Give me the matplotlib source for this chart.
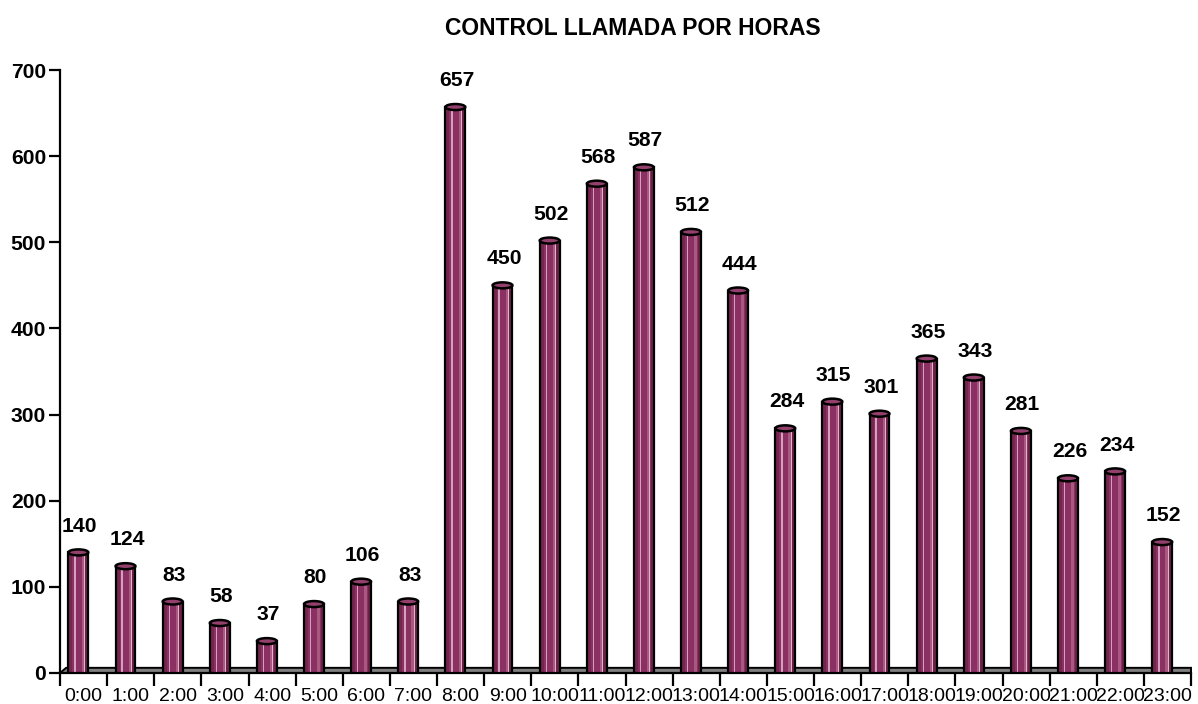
import matplotlib
matplotlib.use('Agg')
import matplotlib.pyplot as plt
from matplotlib.patches import Ellipse, Polygon

plt.rcParams['font.family'] = ['Liberation Sans', 'DejaVu Sans']

# Data
hours = ['0:00', '1:00', '2:00', '3:00', '4:00', '5:00', '6:00', '7:00',
         '8:00', '9:00', '10:00', '11:00', '12:00', '13:00', '14:00', '15:00',
         '16:00', '17:00', '18:00', '19:00', '20:00', '21:00', '22:00', '23:00']
calls = [140, 124, 83, 58, 37, 80, 106, 83,
         657, 450, 502, 568, 587, 512, 444, 284,
         315, 301, 365, 343, 281, 226, 234, 152]
title = 'CONTROL LLAMADA POR HORAS'

# Figure
fig = plt.figure(figsize=(11.98, 7.04), dpi=100)
ax = fig.add_axes([60 / 1198, 31 / 704, 1131 / 1198, 603 / 704])

n = len(hours)
ax.set_xlim(-0.5, n - 0.5)
ax.set_ylim(0, 700)

shift = 0.11      # 3D depth offset of the cylinders
w = 0.42          # cylinder width
cap_h = 7         # ellipse height in data units
floor_h = 6

# floor
floor = Polygon([(-0.5, 0), (-0.5 + 0.13, floor_h), (n - 0.5, floor_h), (n - 0.5, 0)],
                closed=True, facecolor='#7f7f7f', edgecolor='black', lw=1.4, zorder=1,
                clip_on=False)
ax.add_patch(floor)

xs = [i - shift for i in range(n)]

# cylinder bodies
ax.bar(xs, calls, width=w, bottom=1, color='#8b3062', edgecolor='none', zorder=3)
ax.bar([x - w * 0.40 for x in xs], calls, width=w * 0.2, bottom=1, color='#74264f', edgecolor='none', zorder=3)
ax.bar([x - w * 0.17 for x in xs], calls, width=w * 0.07, bottom=1, color='#d6a0bd', edgecolor='none', zorder=3)
ax.bar([x + w * 0.22 for x in xs], calls, width=w * 0.12, bottom=1, color='#a9597f', edgecolor='none', zorder=3)
ax.bar([x + w * 0.30 for x in xs], calls, width=w * 0.04, bottom=1, color='#e0b4c9', edgecolor='none', zorder=3)
ax.bar([x + w * 0.42 for x in xs], calls, width=w * 0.16, bottom=1, color='#6a2248', edgecolor='none', zorder=3)
for x, v in zip(xs, calls):
    ax.plot([x - w / 2, x - w / 2], [1, v], color='black', lw=1.6, zorder=4)
    ax.plot([x + w / 2, x + w / 2], [1, v], color='black', lw=1.6, zorder=4)

# top caps and labels
for x, v in zip(xs, calls):
    ax.add_patch(Ellipse((x, v), w, cap_h, facecolor='#93406c', edgecolor='black',
                         lw=1.8, zorder=5))
    ax.annotate(str(v), (x, v), xytext=(1, 19), textcoords='offset points',
                ha='center', va='center', fontsize=15.2, fontweight='bold', zorder=6)

# axes styling
for s in ['top', 'right']:
    ax.spines[s].set_visible(False)
ax.spines['left'].set_linewidth(1.6)
ax.spines['bottom'].set_linewidth(1.6)
ax.spines['left'].set_zorder(7)
ax.spines['bottom'].set_zorder(7)

ax.set_yticks(range(0, 701, 100))
ax.tick_params(axis='y', length=8, width=1.6, labelsize=15.2, pad=2)
for lab in ax.get_yticklabels():
    lab.set_fontweight('bold')

ax.set_xticks(range(n))
ax.set_xticklabels(hours, fontsize=14)
ax.set_xticks([i - 0.5 for i in range(n + 1)], minor=True)
ax.tick_params(axis='x', which='major', length=0, pad=11)
ax.tick_params(axis='x', which='minor', length=9, width=1.6)

fig.text(0.528, 0.96, title, ha='center', va='center', fontsize=16.5, fontweight='bold')

fig.savefig('out.png', dpi=100)
